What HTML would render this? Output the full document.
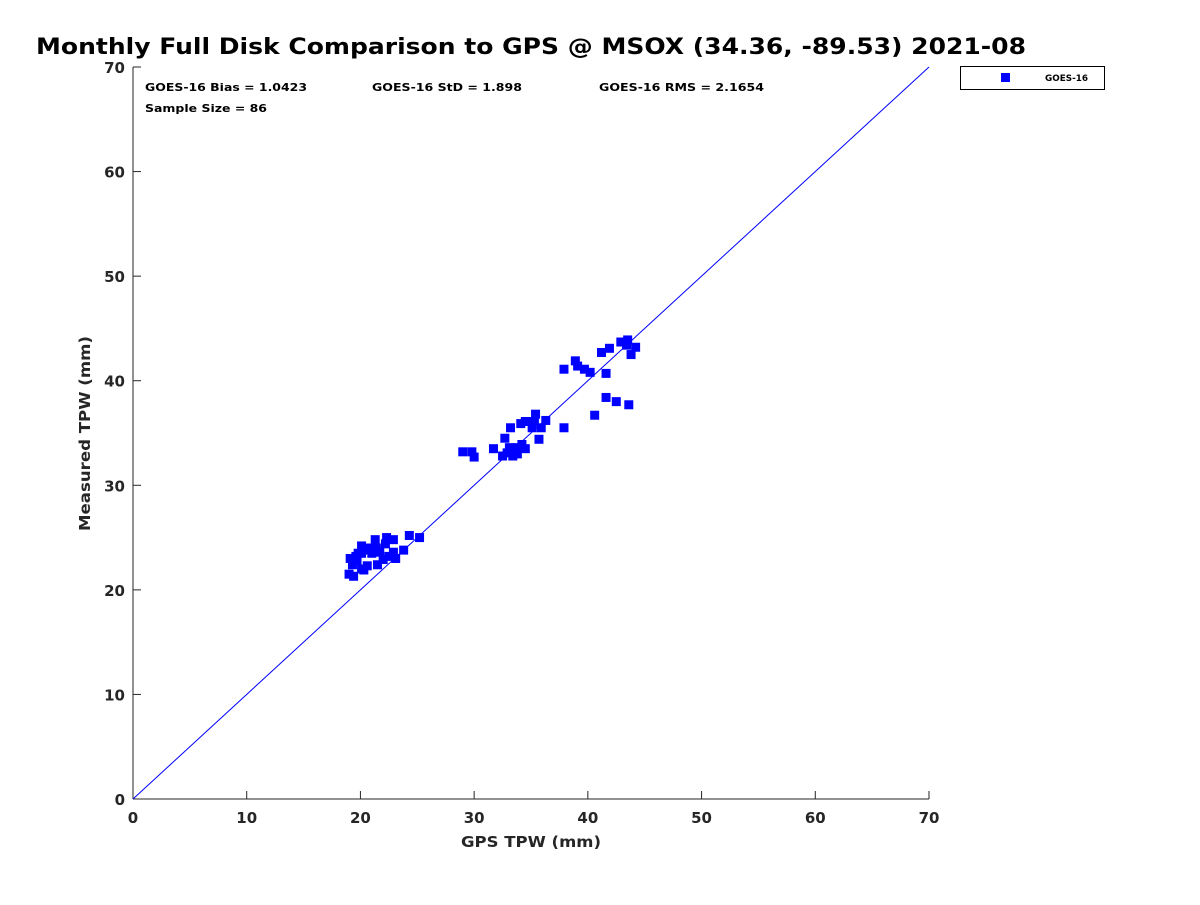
<!DOCTYPE html>
<html><head><meta charset="utf-8"><style>
body{margin:0;background:#fff;width:1200px;height:900px;overflow:hidden}
svg text{font-family:"DejaVu Sans","Liberation Sans",sans-serif;font-weight:bold}
</style></head><body>
<svg id="chart" width="1200" height="900" xmlns="http://www.w3.org/2000/svg">
<text x="36" y="54" font-size="22" fill="#000" textLength="990" lengthAdjust="spacingAndGlyphs">Monthly Full Disk Comparison to GPS @ MSOX (34.36, -89.53) 2021-08</text>
<g id="axes"></g>
<g id="points"></g>
<text x="145" y="91" font-size="11" textLength="162" lengthAdjust="spacingAndGlyphs">GOES-16 Bias = 1.0423</text>
<text x="372" y="91" font-size="11" textLength="150" lengthAdjust="spacingAndGlyphs">GOES-16 StD = 1.898</text>
<text x="599" y="91" font-size="11" textLength="165" lengthAdjust="spacingAndGlyphs">GOES-16 RMS = 2.1654</text>
<text x="145" y="112" font-size="11" textLength="122" lengthAdjust="spacingAndGlyphs">Sample Size = 86</text>
<g>
<rect x="960.5" y="66.5" width="144" height="23" fill="#fff" stroke="#000" stroke-width="1"/>
<rect x="1001" y="73" width="9" height="9" fill="#0000ff"/>
<text x="1045" y="81" font-size="9" textLength="43" lengthAdjust="spacingAndGlyphs">GOES-16</text>
</g>
<text x="461" y="847" font-size="15" fill="#262626" textLength="140" lengthAdjust="spacingAndGlyphs">GPS TPW (mm)</text>
<text transform="translate(90,531) rotate(-90)" font-size="15" fill="#262626" textLength="195" lengthAdjust="spacingAndGlyphs">Measured TPW (mm)</text>
</svg>
<script>
const ticks=[0,10,20,30,40,50,60,70];
const gpsX=[37.9,38.9,39.1,39.7,40.2,41.2,41.9,41.6,42.9,43.4,43.5,44.2,43.8,41.6,42.5,43.6,40.6,37.9,
29.0,29.8,30.0,31.7,32.7,33.2,34.1,34.5,34.9,35.4,35.3,35.1,35.9,36.3,35.7,32.5,32.9,33.1,33.5,33.8,33.8,34.2,34.5,33.4,
19.0,19.4,19.1,19.6,19.7,20.1,20.1,20.3,20.1,20.6,20.7,21.0,21.3,21.4,21.5,21.7,22.0,22.2,22.3,22.5,22.9,22.9,23.1,23.8,24.3,25.2,19.8,21.6,20.3,19.3];
const measY=[41.1,41.9,41.4,41.1,40.8,42.7,43.1,40.7,43.7,43.4,43.9,43.2,42.5,38.4,38.0,37.7,36.7,35.5,
33.2,33.2,32.7,33.5,34.5,35.5,35.9,36.1,36.1,36.8,36.1,35.5,35.5,36.2,34.4,32.8,33.1,33.6,33.1,33.6,33.0,33.9,33.5,32.8,
21.5,21.3,23.0,23.2,22.8,23.5,24.2,23.8,22.0,22.3,24.0,23.5,24.8,24.0,22.4,23.6,22.9,24.4,25.0,23.2,23.6,24.8,23.0,23.8,25.2,25.0,23.5,23.7,21.9,22.4];
const X0=133,X1=929,Y0=799,Y1=67;
const sx=v=>X0+(v/70)*(X1-X0), sy=v=>Y0-(v/70)*(Y0-Y1);
const NS="http://www.w3.org/2000/svg";
const ax=document.getElementById('axes'), pts=document.getElementById('points');
function mk(tag,attrs,parent){const e=document.createElementNS(NS,tag);for(const k in attrs)e.setAttribute(k,attrs[k]);parent.appendChild(e);return e;}
let l=mk('line',{x1:X0,y1:Y0,x2:X1,y2:Y0,stroke:'#262626','stroke-width':1},ax);


l=mk('line',{x1:X0,y1:Y0,x2:X0,y2:Y1,stroke:'#262626','stroke-width':1},ax);


ticks.forEach(t=>{
  let a=mk('line',{x1:sx(t),y1:Y0,x2:sx(t),y2:Y0-8,stroke:'#262626'},ax);
  
  
  let b=mk('line',{x1:X0,y1:sy(t),x2:X0+8,y2:sy(t),stroke:'#262626'},ax);
  
  
  let tx=mk('text',{x:sx(t),y:Y0+24,'font-size':15,'text-anchor':'middle',fill:'#262626'},ax);tx.textContent=t;
  
  
  let ty=mk('text',{x:X0-8,y:sy(t)+6,'font-size':15,'text-anchor':'end',fill:'#262626'},ax);ty.textContent=t;
  
  
});
let d=mk('line',{x1:sx(0),y1:sy(0),x2:sx(70),y2:sy(70),stroke:'#0000ff','stroke-width':1},ax);


gpsX.forEach((x,i)=>{
  const r=mk('rect',{x:sx(x)-4.5,y:sy(measY[i])-4.5,width:9,height:9,fill:'#0000ff'},pts);
  
  
});
</script>
</body></html>
